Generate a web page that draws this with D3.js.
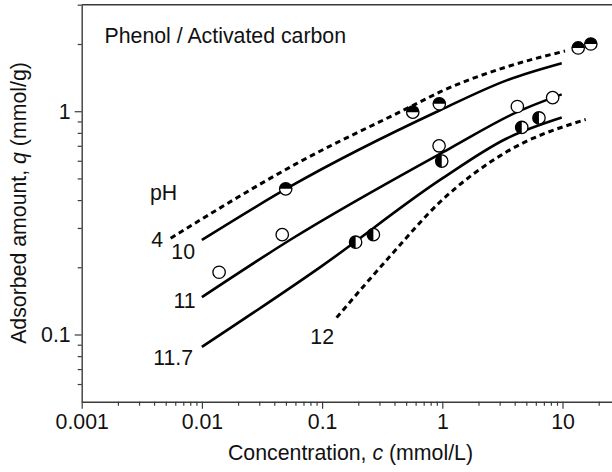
<!DOCTYPE html>
<html><head><meta charset="utf-8">
<script src="https://cdn.jsdelivr.net/npm/d3@7"></script>
<style>
html,body{margin:0;padding:0;background:#fff;}
text{font-family:"Liberation Sans",Arial,sans-serif;fill:#111;}
</style></head>
<body>
<svg id="chart" width="612" height="472"></svg>
<script>
// ---- data ----
const xDomain = [0.001, 30];
const yDomain = [0.05, 3];
const xTickValues = [0.001, 0.01, 0.1, 1, 10];
const xTickLabels = ["0.001", "0.01", "0.1", "1", "10"];
const yTickValues = [0.1, 1];
const yTickLabels = ["0.1", "1"];

// model curves (c, q)
const curvePH4_c  = [0.0055, 0.0655, 0.568, 0.957, 3.43, 10.5];
const curvePH4_q  = [0.270, 0.594, 1.06, 1.22, 1.58, 1.86];
const curvePH10_c = [0.01, 0.054, 0.957, 3.43, 9.85];
const curvePH10_q = [0.265, 0.459, 1.01, 1.375, 1.64];
const curvePH11_c = [0.01, 0.054, 1.159, 4.21, 9.85];
const curvePH11_q = [0.147, 0.265, 0.682, 0.993, 1.19];
const curvePH117_c = [0.01, 0.1, 1.0, 3.43, 9.85];
const curvePH117_q = [0.088, 0.203, 0.50, 0.755, 0.937];
const curvePH12_c = [0.132, 0.367, 0.957, 3.43, 15.6];
const curvePH12_q = [0.119, 0.224, 0.392, 0.658, 0.918];

// measured points
const ptsTop_c  = [0.0498, 0.568, 0.944, 13.5, 17.2];   // top-half filled
const ptsTop_q  = [0.449, 0.99, 1.08, 1.92, 2.0];
const ptsOpen_c = [0.0139, 0.0466, 0.94, 4.21, 8.28];   // open
const ptsOpen_q = [0.19, 0.28, 0.70, 1.05, 1.15];
const ptsLeft_c = [0.19, 0.267, 0.989, 4.58, 6.37];     // left-half filled
const ptsLeft_q = [0.259, 0.28, 0.598, 0.846, 0.933];

const curveLabels = ["4", "10", "11", "11.7", "12"];

// ---- drawing ----
const svg = d3.select("#chart");
const x0 = 81.7, decX = 120.2;
const x = d3.scaleLog().domain(xDomain).range([x0, x0 + decX * Math.log10(xDomain[1] / xDomain[0])]);
const y = d3.scaleLog().domain(yDomain).range([401.7, 4.7]);
const axisColor = "#3a3a3a";

const zip = (cs, qs) => cs.map((c, i) => ({c, q: qs[i]}));

// minor ticks
const xMinor = x.ticks().filter(v => !xTickValues.some(t => Math.abs(t - v) / t < 1e-6));
const yMinor = y.ticks().filter(v => !yTickValues.some(t => Math.abs(t - v) / t < 1e-6) && v > yDomain[0] * 1.001);

function styleAxis(g) {
  g.select(".domain").attr("stroke", axisColor).attr("stroke-width", 1.4);
  g.selectAll(".tick line").attr("stroke", axisColor).attr("stroke-width", 1.2);
  g.selectAll("text").style("font-family", '"Liberation Sans",Arial,sans-serif').attr("fill", "#111");
}

const fs = 21.3;

// X axis
const gx = svg.append("g").attr("transform", `translate(0,${y(yDomain[0])})`)
  .call(d3.axisBottom(x).tickValues(xTickValues).tickSize(7).tickSizeOuter(0)
    .tickFormat((d, i) => xTickLabels[i]));
gx.call(styleAxis);
gx.selectAll(".tick text").attr("font-size", fs).attr("y", 12).attr("dy", "0.71em");
const gxm = svg.append("g").attr("transform", `translate(0,${y(yDomain[0])})`)
  .call(d3.axisBottom(x).tickValues(xMinor).tickSize(4).tickSizeOuter(0).tickFormat(""));
gxm.call(styleAxis);
gxm.select(".domain").remove();

// Y axis
const gy = svg.append("g").attr("transform", `translate(${x0},0)`)
  .call(d3.axisLeft(y).tickValues(yTickValues).tickSize(7).tickSizeOuter(0)
    .tickFormat((d, i) => yTickLabels[i]));
gy.call(styleAxis);
gy.selectAll(".tick text").attr("font-size", fs).attr("x", -11).attr("dy", "0.33em");
const gym = svg.append("g").attr("transform", `translate(${x0},0)`)
  .call(d3.axisLeft(y).tickValues(yMinor).tickSize(4).tickSizeOuter(0).tickFormat(""));
gym.call(styleAxis);
gym.select(".domain").remove();

// top frame line
svg.append("line")
  .attr("x1", x(xDomain[0])).attr("x2", x(xDomain[1]))
  .attr("y1", y(yDomain[1])).attr("y2", y(yDomain[1]))
  .attr("stroke", axisColor).attr("stroke-width", 1.4);

// curves
const line = d3.line().x(d => x(d.c)).y(d => y(d.q)).curve(d3.curveMonotoneX);
const curves = [
  {d: zip(curvePH4_c, curvePH4_q), dash: true},
  {d: zip(curvePH10_c, curvePH10_q), dash: false},
  {d: zip(curvePH11_c, curvePH11_q), dash: false},
  {d: zip(curvePH117_c, curvePH117_q), dash: false},
  {d: zip(curvePH12_c, curvePH12_q), dash: true},
];
curves.forEach(cv => {
  svg.append("path").attr("d", line(cv.d)).attr("fill", "none")
    .attr("stroke", "#000").attr("stroke-width", cv.dash ? 3 : 2.6)
    .attr("stroke-dasharray", cv.dash ? "5.5,4" : null);
});

// markers
const r = 6.2;
function marker(c, q, kind) {
  const cx = x(c), cy = y(q);
  const g = svg.append("g").attr("transform", `translate(${cx},${cy})`);
  g.append("circle").attr("r", r).attr("fill", "#fff");
  if (kind === "top") {
    g.append("path").attr("d", `M${-r},0 A${r},${r} 0 0 1 ${r},0 Z`).attr("fill", "#000");
  } else if (kind === "left") {
    g.append("path").attr("d", `M0,${r} A${r},${r} 0 0 1 0,${-r} Z`).attr("fill", "#000");
  }
  g.append("circle").attr("r", r).attr("fill", "none").attr("stroke", "#000").attr("stroke-width", 1.3);
}
zip(ptsOpen_c, ptsOpen_q).forEach(p => marker(p.c, p.q, "open"));
zip(ptsLeft_c, ptsLeft_q).forEach(p => marker(p.c, p.q, "left"));
zip(ptsTop_c, ptsTop_q).forEach(p => marker(p.c, p.q, "top"));

// texts
svg.append("text").attr("x", 104.5).attr("y", 43.3).attr("font-size", fs).text("Phenol / Activated carbon");
svg.append("text").attr("x", 150).attr("y", 200).attr("font-size", fs).text("pH");
const labelPos = [[163, 247.3], [195, 259.3], [195.5, 308.3], [193, 365], [334, 344.3]];
curveLabels.forEach((t, i) => {
  svg.append("text").attr("x", labelPos[i][0]).attr("y", labelPos[i][1])
    .attr("text-anchor", "end").attr("font-size", fs).text(t);
});

// axis titles
const xt = svg.append("text").attr("x", 350.5).attr("y", 460).attr("text-anchor", "middle").attr("font-size", fs);
xt.append("tspan").text("Concentration, ");
xt.append("tspan").attr("font-style", "italic").text("c");
xt.append("tspan").text(" (mmol/L)");

const yt = svg.append("text").attr("transform", "translate(26,203) rotate(-90)")
  .attr("text-anchor", "middle").attr("font-size", fs);
yt.append("tspan").text("Adsorbed amount, ");
yt.append("tspan").attr("font-style", "italic").text("q");
yt.append("tspan").text(" (mmol/g)");
</script>
</body></html>
